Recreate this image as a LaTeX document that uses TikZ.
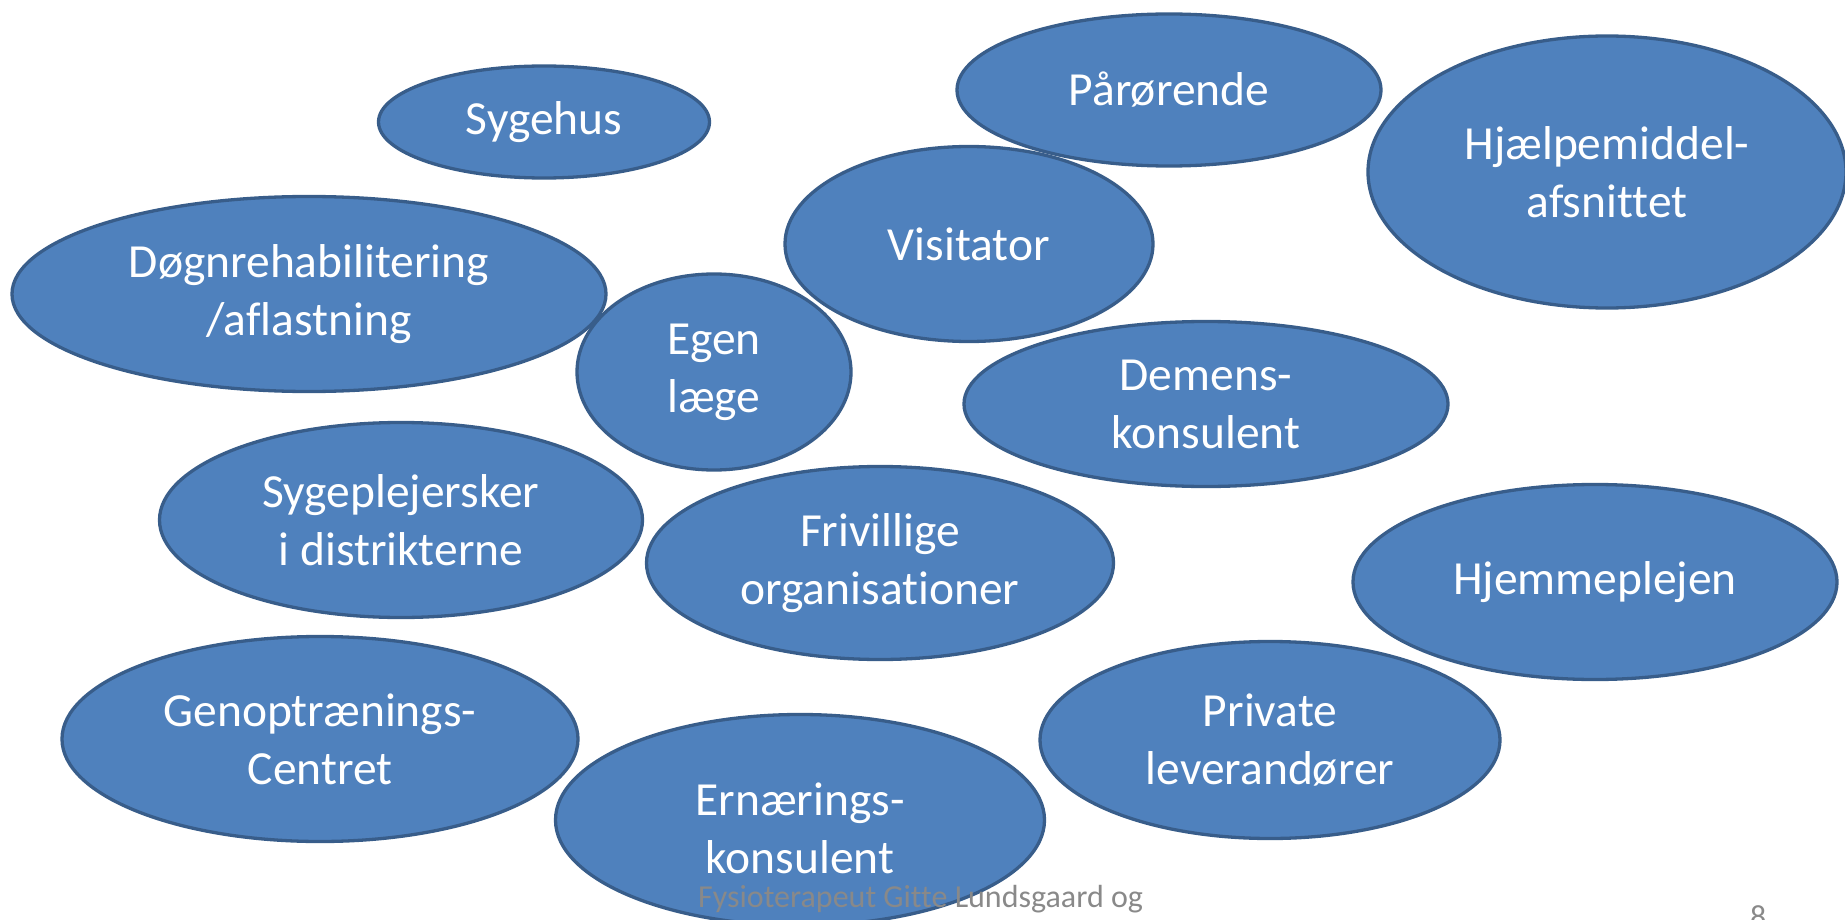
\documentclass[tikz,border=0pt]{standalone}
\usepackage{fontspec}
\setmainfont[Ligatures=NoCommon]{Carlito}
\usepackage{tikz}
\usetikzlibrary{
  shapes.geometric
}

\definecolor{bubblefill}{RGB}{79,129,189}
\definecolor{bubbleline}{RGB}{56,93,138}
\definecolor{footergray}{RGB}{137,137,137}

\begin{document}
\begin{tikzpicture}[
      x=1pt,y=-1pt,
      bubble/.style={
         ellipse,
         inner sep=0pt,
         line width=3.3pt,
         draw=bubbleline,
         fill=bubblefill,
         text=white,
         align=center,
         font=\fontsize{47.5}{58}\selectfont
      },
      bubble text/.style={
         inner sep=0pt,
         text=white,
         align=center,
         font=\fontsize{47.5}{58}\selectfont
      },
      footer/.style={
         inner sep=0pt,
         text=footergray,
         font=\fontsize{32}{38}\selectfont
      }
    ]
    \useasboundingbox (0,0) rectangle (1845,920);
    % top row
    \node (sygehus) [bubble, minimum width=331pt, minimum height=112pt] at (544,122) {Sygehus};
    \node (paarorende) [bubble, minimum width=424pt, minimum height=152pt] at (1169,90) {Pårørende};
    \node (hjaelp) [bubble, minimum width=478pt, minimum height=272pt] at (1607,172) {Hjælpemiddel-\\afsnittet};
    \node (visitator) [bubble, minimum width=368pt, minimum height=195pt] at (969,244) {Visitator};
    \node (dogn) [bubble, minimum width=594pt, minimum height=195pt] at (309,294) {Døgnrehabilitering\\/aflastning};
    % middle
    \node (egen) [bubble, minimum width=274pt, minimum height=196pt] at (714,372) {Egen\\læge};
    \node (demens) [bubble, minimum width=484pt, minimum height=165pt] at (1206,404) {Demens-\\konsulent};
    \node (sygepl) [bubble, minimum width=483pt, minimum height=195pt] at (401,520) {Sygeplejersker\\i distrikterne};
    \node (frivillige) [bubble, minimum width=467pt, minimum height=193pt] at (880,563) {Frivillige\\organisationer};
    \node (hjemme) [bubble, minimum width=484pt, minimum height=195pt] at (1595,582) {Hjemmeplejen};
    % bottom row
    \node (genop) [bubble, minimum width=516pt, minimum height=205pt] at (320,739) {Genoptrænings-\\Centret};
    \node (private) [bubble, minimum width=460pt, minimum height=197pt] at (1270,740) {Private\\leverandører};
    \node (ernaering) [bubble, minimum width=489pt, minimum height=211pt] at (800,820) {};
    \node (ernaeringtext) [bubble text] at ([yshift=-8pt]ernaering.center) {Ernærings-\\konsulent};
    % footer
    \node (footer) [footer, anchor=base west] at (698,907) {Fysioterapeut Gitte Lundsgaard og};
    \node (pagenum) [footer, anchor=base west] at (1750,927) {8};
\end{tikzpicture}
\end{document}
